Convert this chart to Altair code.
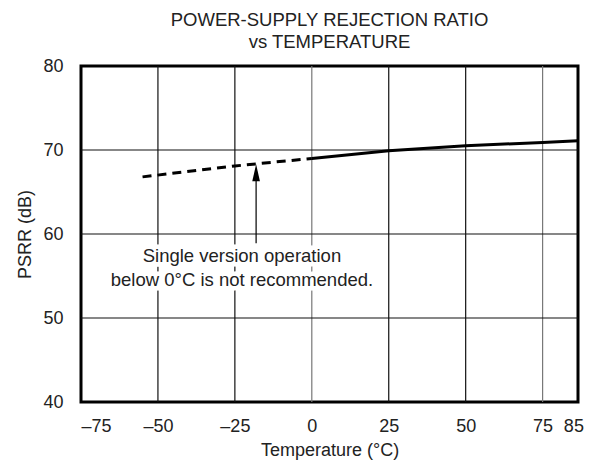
import altair as alt
import pandas as pd

# ---- data ----
temps = [-55, -25, 0, 25, 50, 75, 86.5]
psrr = [66.8, 68.1, 69.0, 69.9, 70.5, 70.9, 71.1]
segment = ["dashed", "dashed", "solid", "solid", "solid", "solid", "solid"]

x_ticks = [-75, -50, -25, 0, 25, 50, 75, 85]
y_ticks = [40, 50, 60, 70, 80]
x_grid = [-50, -25, 0, 25, 50, 75]
x_grid_light = [0, 75]
y_grid = [50, 60, 70]

note_lines = ["Single version operation", "below 0°C is not recommended."]
note_x = [-22.7, -22.7]
note_y = [57.4, 54.5]

arrow_x = -18.1
arrow_tail = 58.9
arrow_head_base = 66.3
arrow_tip = 68.3

FONT = "Liberation Sans"
X_DOMAIN = [-75, 86.5]
Y_DOMAIN = [40, 80]

rows = []
for t, p, s in zip(temps, psrr, segment):
    rows.append({"t": t, "p": p, "seg": s})
rows.append({"t": 0, "p": 69.0, "seg": "dashed"})  # join the two pieces
curve_df = pd.DataFrame(rows)

xs = alt.Scale(domain=X_DOMAIN, nice=False, zero=False)
ys = alt.Scale(domain=Y_DOMAIN, nice=False, zero=False)

x_axis = alt.Axis(
    values=x_ticks,
    labelExpr="datum.value < 0 ? '\u2013' + abs(datum.value) : datum.label",
    title="Temperature (°C)",
    grid=False, ticks=False, domain=False,
    labelPadding=15, titlePadding=6,
    labelFontSize=18, titleFontSize=18,
    labelFont=FONT, titleFont=FONT,
    labelColor="#222", titleColor="#222", titleFontWeight="normal",
)
y_axis = alt.Axis(
    values=y_ticks,
    title="PSRR (dB)",
    grid=False, ticks=False, domain=False,
    labelPadding=18, titlePadding=8,
    labelFontSize=18, titleFontSize=18,
    labelFont=FONT, titleFont=FONT,
    labelColor="#222", titleColor="#222", titleFontWeight="normal",
)

vgrid_df = pd.DataFrame({"g": x_grid})
vgrid_df["light"] = vgrid_df["g"].isin(x_grid_light)
vgrid = alt.Chart(vgrid_df).mark_rule(strokeWidth=1.2).encode(
    x=alt.X("g:Q", scale=xs, axis=x_axis),
    color=alt.condition("datum.light", alt.value("#777"), alt.value("#111")),
)
hgrid = alt.Chart(pd.DataFrame({"g": y_grid})).mark_rule(strokeWidth=1.2, color="#111").encode(
    y=alt.Y("g:Q", scale=ys, axis=y_axis),
)

note_df = pd.DataFrame({"x": note_x, "y": note_y, "txt": note_lines})
halo = alt.Chart(note_df).mark_text(
    font=FONT, fontSize=18.5, stroke="white", strokeWidth=9, color="white",
).encode(x=alt.X("x:Q", scale=xs), y=alt.Y("y:Q", scale=ys), text="txt:N")
note = alt.Chart(note_df).mark_text(
    font=FONT, fontSize=18.5, color="#222",
).encode(x=alt.X("x:Q", scale=xs), y=alt.Y("y:Q", scale=ys), text="txt:N")

arrow_df = pd.DataFrame({"x": [arrow_x], "y1": [arrow_tail], "y2": [arrow_head_base],
                         "yh": [(arrow_head_base + arrow_tip) / 2]})
shaft = alt.Chart(arrow_df).mark_rule(color="black", strokeWidth=1.2).encode(
    x=alt.X("x:Q", scale=xs), y=alt.Y("y1:Q", scale=ys), y2="y2:Q",
)
head = alt.Chart(arrow_df).mark_point(
    shape="M -0.45 1 L 0 -1 L 0.45 1 Z", filled=True, color="black", size=290, opacity=1,
).encode(x=alt.X("x:Q", scale=xs), y=alt.Y("yh:Q", scale=ys))

dashed = alt.Chart(curve_df[curve_df.seg == "dashed"]).mark_line(
    color="black", strokeWidth=3, strokeDash=[9, 6],
).encode(x=alt.X("t:Q", scale=xs), y=alt.Y("p:Q", scale=ys), order="t:Q")
solid = alt.Chart(curve_df[curve_df.seg == "solid"]).mark_line(
    color="black", strokeWidth=3,
).encode(x=alt.X("t:Q", scale=xs), y=alt.Y("p:Q", scale=ys), order="t:Q")

chart = alt.layer(vgrid, hgrid, halo, note, shaft, head, dashed, solid).properties(
    width=497, height=336,
    title=alt.TitleParams(
        text=["POWER-SUPPLY REJECTION RATIO", "vs TEMPERATURE"],
        font=FONT, fontSize=18.5, fontWeight="normal", color="#222",
        anchor="middle", offset=6, lineHeight=22,
    ),
    autosize=alt.AutoSizeParams(type="none"),
    padding={"left": 73, "top": 58, "right": 19, "bottom": 58},
).configure_view(
    stroke="black", strokeWidth=3,
)

chart.save("out.html", embed_options={"renderer": "svg", "actions": False})
